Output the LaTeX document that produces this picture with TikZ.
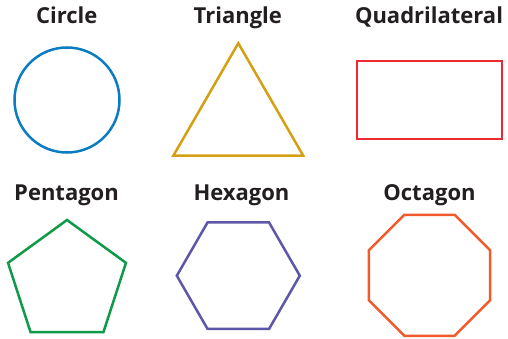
\documentclass[tikz,border=0pt]{standalone}
\usepackage{fontspec}
\setmainfont{Open Sans}
\definecolor{TitleInk}{HTML}{231F20}
\definecolor{CircleBlue}{HTML}{0A7DC2}
\definecolor{TriGold}{HTML}{D49F12}
\definecolor{QuadRed}{HTML}{EE2A31}
\definecolor{PentGreen}{HTML}{0E9A48}
\definecolor{HexPurple}{HTML}{5E56A8}
\definecolor{OctOrange}{HTML}{F15A2B}
\usetikzlibrary{shapes.geometric}

\begin{document}
\begin{tikzpicture}[x=1pt, y=-1pt,
  ttl/.style={font=\fontsize{22}{26}\selectfont\bfseries, text=TitleInk, anchor=base, inner sep=0pt},
  shp/.style={draw, line width=2.5pt, inner sep=0pt, outer sep=0pt},
  poly/.style={shp, regular polygon, regular polygon sides=#1},
]
  \useasboundingbox (0,0) rectangle (508,339);
  % Top row
  \node[shp, circle, draw=CircleBlue, minimum size=105pt] (circ) at (67,100) {};
  \node[poly=3, draw=TriGold, minimum size=150pt] (tri) at (238.3,118.2) {};
  \node[shp, rectangle, draw=QuadRed, minimum width=145pt, minimum height=78pt] (quad) at (429.3,100) {};
  % Bottom row
  \node[poly=5, draw=PentGreen, minimum size=124pt] (pent) at (67,282) {};
  \node[poly=6, draw=HexPurple, minimum size=123pt] (hex) at (238.3,275.7) {};
  \node[poly=8, draw=OctOrange, minimum size=131pt] (oct) at (429.5,275.3) {};
  % Titles
  \node[ttl] (circlbl) at (66.7,24) {Circle};
  \node[ttl] (trilbl) at (237.8,24) {Triangle};
  \node[ttl] (quadlbl) at (429,24) {Quadrilateral};
  \node[ttl] (pentlbl) at (66.5,200.5) {Pentagon};
  \node[ttl] (hexlbl) at (241.5,200.5) {Hexagon};
  \node[ttl] (octlbl) at (429.5,200.5) {Octagon};
\end{tikzpicture}
\end{document}
